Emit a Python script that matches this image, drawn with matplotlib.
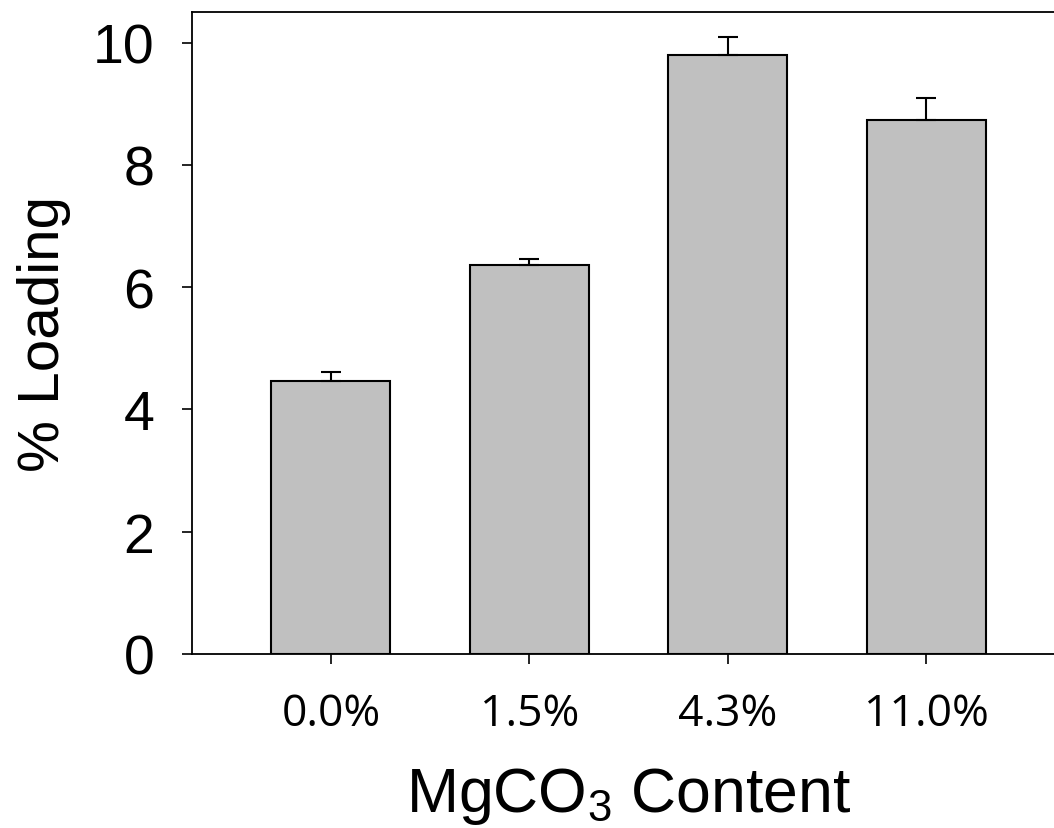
import numpy as np
import matplotlib
matplotlib.use('Agg')
import matplotlib.pyplot as plt

plt.rcParams['font.family'] = ['Liberation Sans', 'DejaVu Sans']
plt.rcParams['mathtext.default'] = 'regular'

categories = ['0.0%', '1.5%', '4.3%', '11.0%']
loading = [4.47, 6.36, 9.80, 8.74]
loading_err = [0.14, 0.10, 0.29, 0.35]

fig = plt.figure(figsize=(10.54, 8.29), dpi=100)
ax = fig.add_axes([192 / 1054, 174 / 829, 873 / 1054, 642 / 829])

x = np.arange(len(categories))
ax.bar(x, loading, width=0.6, color='#c0c0c0', edgecolor='black', linewidth=1.5,
       yerr=[np.zeros(len(loading)), loading_err],
       error_kw=dict(ecolor='black', elinewidth=1.5, capsize=7, capthick=1.5))

ax.set_xlim(-0.70, 3.70)
ax.set_ylim(0, 10.5)
ax.set_yticks([0, 2, 4, 6, 8, 10])
ax.set_xticks(x)
ax.set_xticklabels(categories, family=['Open Sans', 'DejaVu Sans'], fontsize=32)
ax.tick_params(axis='y', labelsize=40, direction='out', length=7, width=1.2, pad=20)
ax.tick_params(axis='x', direction='out', length=7, width=1.2, pad=20)

for s in ax.spines.values():
    s.set_linewidth(1.3)

ax.set_ylabel('% Loading', fontsize=42, labelpad=16)
ax.set_xlabel('MgCO$_3$ Content', fontsize=45, labelpad=21)

fig.savefig('out.png', dpi=100)
